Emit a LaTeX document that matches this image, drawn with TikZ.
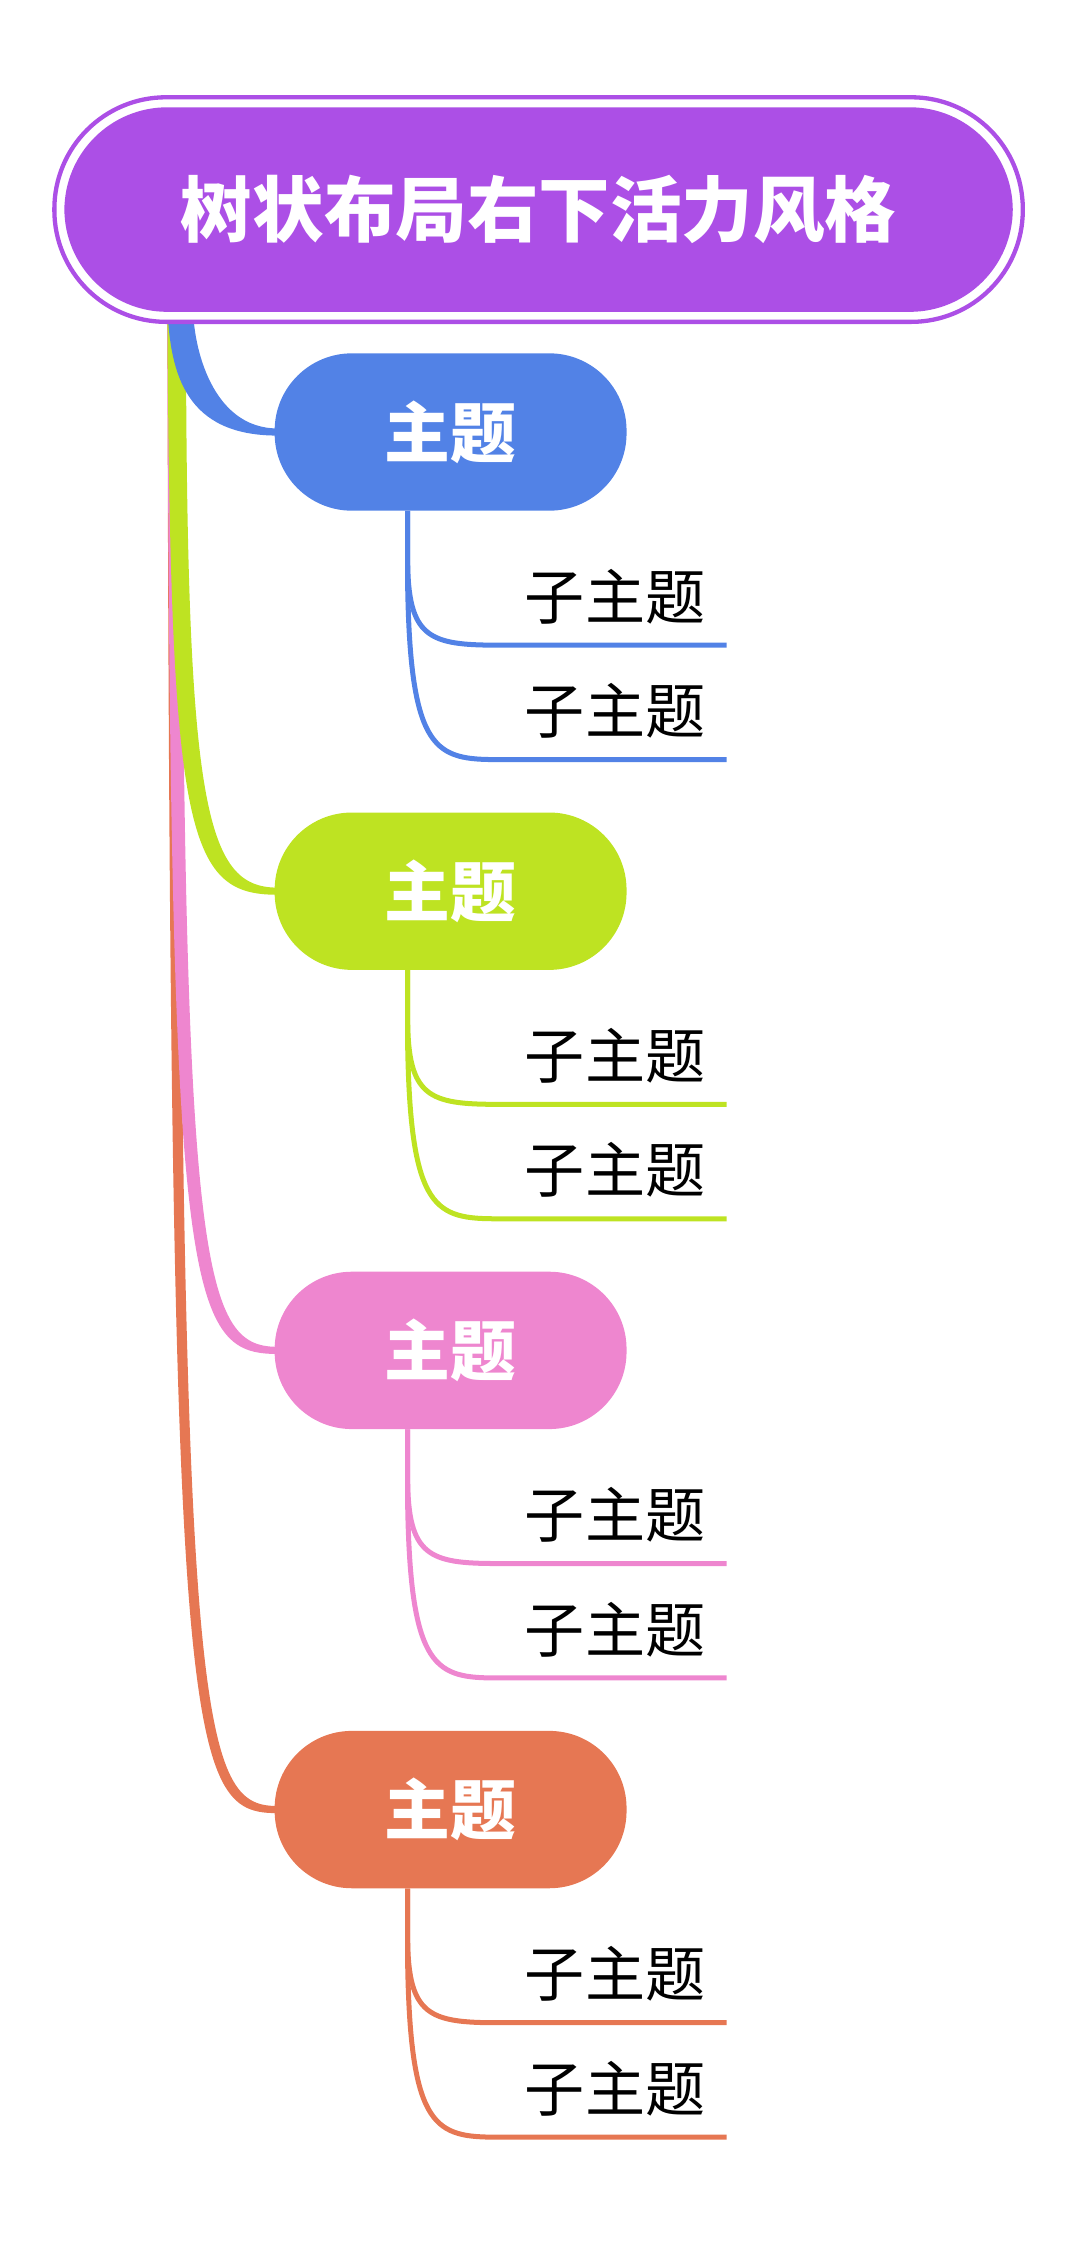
\documentclass[tikz,border=0pt]{standalone}
\usepackage{fontspec}
\newfontfamily\cjk{Noto Sans CJK SC}
\definecolor{cpur}{HTML}{AC4FE6}
\definecolor{cblue}{HTML}{5282E6}
\definecolor{cgreen}{HTML}{BEE322}
\definecolor{cpink}{HTML}{EE86CF}
\definecolor{corange}{HTML}{E67753}
\begin{document}
\begin{tikzpicture}[x=1pt,y=-1pt,
  topicbox/.style={fill=#1,rounded corners=54pt,minimum width=246pt,minimum height=110pt,inner sep=0,text=white,font=\cjk\bfseries\fontsize{46}{50}\selectfont},
  subtxt/.style={font=\cjk\fontsize{42}{46}\selectfont,inner sep=0,anchor=center},
  subline/.style={draw=#1,line width=3.5pt}]
\useasboundingbox (0,0) rectangle (750,1568);
% connectors root->topics (tapered, drawn before nodes)
\foreach \c/\yc/\w in {corange/1265/8,cpink/944/10,cgreen/623/13,cblue/302/18}{
  \fill[\c] (117,215) .. controls (119,\yc-40) and (130,\yc+2.5) .. (194,\yc+2.5) -- (194,\yc-2.5)
    .. controls (130+\w,\yc-2.5) and (117+\w,\yc-60) .. (117+\w,215) -- cycle;
}
% root
\node[draw=cpur,line width=3pt,fill=white,rounded corners=78pt,minimum width=677pt,minimum height=157pt,inner sep=0] (rootout) at (376.5,146.5) {};
\node[fill=cpur,rounded corners=72pt,minimum width=663pt,minimum height=143pt,inner sep=0,text=white,font=\cjk\bfseries\fontsize{50}{54}\selectfont] (root) at (376.5,146.5) {树状布局右下活力风格};
\node[topicbox=cblue] (t1) at (315,302) {主题};
\node[topicbox=cgreen] (t2) at (315,623) {主题};
\node[topicbox=cpink] (t3) at (315,944) {主题};
\node[topicbox=corange] (t4) at (315,1265) {主题};
\foreach \t/\c/\ya/\yb/\i in {t1/cblue/451/531/1,t2/cgreen/772/852/2,t3/cpink/1093/1173/3,t4/corange/1414/1494/4}{
  \coordinate (e\i a) at (508,\ya);
  \coordinate (e\i b) at (508,\yb);
  \draw[subline=\c] ([xshift=-30pt]\t.south) -- (285,\ya-60) .. controls (285,\ya-5) and (300,\ya) .. (348,\ya) -- (e\i a);
  \draw[subline=\c] ([xshift=-30pt]\t.south) -- (285,\yb-120) .. controls (287,\yb-5) and (305,\yb) .. (348,\yb) -- (e\i b);
  \node[subtxt] (s\i a) at (430,\ya-34) {子主题};
  \node[subtxt] (s\i b) at (430,\yb-34) {子主题};
}
\end{tikzpicture}
\end{document}
